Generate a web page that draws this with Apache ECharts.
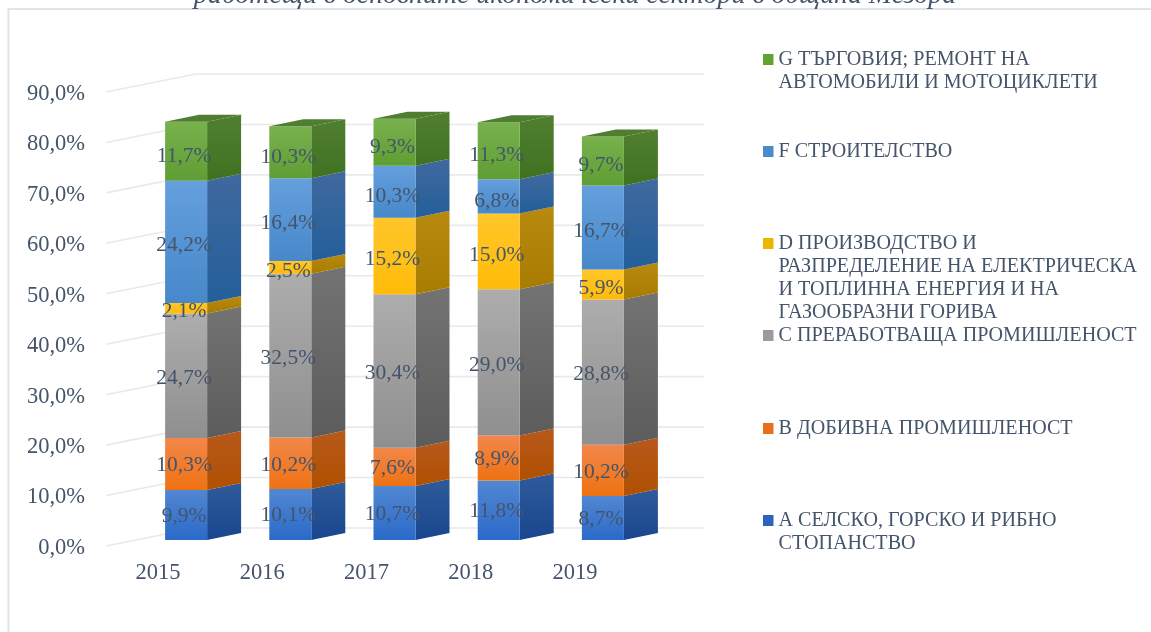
<!DOCTYPE html>
<html>
<head>
<meta charset="utf-8">
<style>
html,body{margin:0;padding:0;background:#fff;overflow:hidden}
#main{width:1151px;height:632px;filter:blur(0.5px)}
</style>
<script src="https://cdn.jsdelivr.net/npm/echarts@6/dist/echarts.min.js"></script>
</head>
<body>
<div id="main"></div>
<script>
const categories = ['2015', '2016', '2017', '2018', '2019'];
const ticks = [0, 10, 20, 30, 40, 50, 60, 70, 80, 90];

const sectorA = [9.9, 10.1, 10.7, 11.8, 8.7];
const sectorB = [10.3, 10.2, 7.6, 8.9, 10.2];
const sectorC = [24.7, 32.5, 30.4, 29.0, 28.8];
const sectorD = [2.1, 2.5, 15.2, 15.0, 5.9];
const sectorF = [24.2, 16.4, 10.3, 6.8, 16.7];
const sectorG = [11.7, 10.3, 9.3, 11.3, 9.7];

const nameA = 'А СЕЛСКО, ГОРСКО И РИБНО\nСТОПАНСТВО';
const nameB = 'В ДОБИВНА ПРОМИШЛЕНОСТ';
const nameC = 'С ПРЕРАБОТВАЩА ПРОМИШЛЕНОСТ';
const nameD = 'D ПРОИЗВОДСТВО И\nРАЗПРЕДЕЛЕНИЕ НА ЕЛЕКТРИЧЕСКА\nИ ТОПЛИННА ЕНЕРГИЯ И НА\nГАЗООБРАЗНИ ГОРИВА';
const nameF = 'F СТРОИТЕЛСТВО';
const nameG = 'G ТЪРГОВИЯ; РЕМОНТ НА\nАВТОМОБИЛИ И МОТОЦИКЛЕТИ';

const TEXT = '#44546a';
const SERIF = '"Liberation Serif","Times New Roman",serif';

const stackDefs = [
  {name: nameA, values: sectorA, legend: '#2f62bc', legendTop: 520.5,
   front: ['#5287d2', '#2a6ac9'], side: ['#2f5b9a', '#18468f']},
  {name: nameB, values: sectorB, legend: '#e96f1c', legendTop: 428.5,
   front: ['#f2874a', '#ef7212'], side: ['#b8591c', '#b05000']},
  {name: nameC, values: sectorC, legend: '#9b9b9b', legendTop: 335.5,
   front: ['#adadad', '#8f8f8f'], side: ['#737373', '#5c5c5c']},
  {name: nameD, values: sectorD, legend: '#eab700', legendTop: 243.5,
   front: ['#ffc62a', '#ffbb08'], side: ['#b88a10', '#a87c00']},
  {name: nameF, values: sectorF, legend: '#4a8bcb', legendTop: 151.5,
   front: ['#659fdd', '#4688ca'], side: ['#40699f', '#235f9a']},
  {name: nameG, values: sectorG, legend: '#62a233', legendTop: 59.5,
   front: ['#78b14d', '#5f9e34'], side: ['#507f30', '#3f7220'], top: '#4f7e30'}
];

// depth projection of the 3D look (pixel offsets from the axis scales)
const BASE_LIFT = 8, BAR_INSET = 7, BAR_W = 42, DEPTH_X = 34, DEPTH_Y = 7;
const WALL_LIFT = 2, WALL_DX = 90, WALL_DY = 18, WALL_W = 508;

function vGrad(c) {
  return {type: 'linear', x: 0, y: 0, x2: 0, y2: 1,
    colorStops: [{offset: 0, color: c[0]}, {offset: 1, color: c[1]}]};
}

function makeBarSeries(def, idx) {
  const data = categories.map((c, i) => {
    let start = 0;
    for (let k = 0; k < idx; k++) start += stackDefs[k].values[i];
    return [i, +start.toFixed(1), +(start + def.values[i]).toFixed(1), def.values[i]];
  });
  return {
    type: 'custom', name: def.name, data: data, clip: false,
    itemStyle: {color: def.legend},
    encode: {x: 0, y: [1, 2]},
    renderItem(params, api) {
      const lo = api.coord([api.value(0), api.value(1)]);
      const hi = api.coord([api.value(0), api.value(2)]);
      const x0 = lo[0] + BAR_INSET, x1 = x0 + BAR_W;
      const y0 = lo[1] - BASE_LIFT, y1 = hi[1] - BASE_LIFT;
      const mid = (api.value(1) + api.value(2)) / 2;
      const kids = [
        {type: 'polygon', shape: {points: [[x1, y1], [x1 + DEPTH_X, y1 - DEPTH_Y], [x1 + DEPTH_X, y0 - DEPTH_Y], [x1, y0]]},
         style: {fill: vGrad(def.side)}},
        {type: 'rect', shape: {x: x0, y: y1, width: BAR_W, height: y0 - y1},
         style: {fill: vGrad(def.front)}}
      ];
      if (def.top) {
        kids.push({type: 'polygon', shape: {points: [[x0, y1], [x0 + DEPTH_X, y1 - DEPTH_Y], [x1 + DEPTH_X, y1 - DEPTH_Y], [x1, y1]]},
          style: {fill: def.top}});
      }
      kids.push({type: 'text', z2: 100, style: {
        x: x0 + BAR_W / 2 - 2, y: (y0 + y1) / 2 + 1 + mid * 0.05,
        text: api.value(3).toFixed(1).replace('.', ',') + '%',
        fill: TEXT, font: '21.5px ' + SERIF, align: 'center', verticalAlign: 'middle'}});
      return {type: 'group', children: kids};
    }
  };
}

const wallSeries = {
  type: 'custom', name: 'wall', silent: true, clip: false, z: 1,
  data: ticks.map(t => [0, t]),
  encode: {x: 0, y: 1},
  renderItem(params, api) {
    const p = api.coord([0, api.value(1)]);
    const x = p[0] - api.size([1, 0])[0] / 2, y = p[1] - WALL_LIFT;
    return {type: 'polyline',
      shape: {points: [[x, y], [x + WALL_DX, y - WALL_DY], [x + WALL_DX + WALL_W, y - WALL_DY]]},
      style: {stroke: '#e9e9e9', lineWidth: 1.6, fill: null}};
  }
};

const legends = stackDefs.map(def => {
  const n = def.name.split('\n').length;
  return {
    data: [def.name], left: 763, top: def.legendTop - (2 * n - 1) * 11.5, padding: 0,
    icon: 'rect', itemWidth: 10.5, itemHeight: 11, selectedMode: false,
    formatter: name => '\n'.repeat(n - 1) + name,
    textStyle: {color: TEXT, fontFamily: SERIF, fontSize: 20.1, lineHeight: 23}
  };
});

const chart = echarts.init(document.getElementById('main'), null, {renderer: 'canvas'});
chart.setOption({
  animation: false,
  backgroundColor: '#ffffff',
  title: {
    text: 'работещи в основните икономически сектори в община Мездра',
    left: 575, top: -18, textAlign: 'center', padding: 0,
    textStyle: {color: TEXT, fontFamily: SERIF, fontSize: 27.9, fontStyle: 'italic', fontWeight: 'normal'}
  },
  legend: legends,
  grid: {left: 106, top: 94, width: 521, height: 454, containLabel: false},
  xAxis: {
    type: 'category', data: categories,
    axisLine: {show: false}, axisTick: {show: false},
    axisLabel: {color: TEXT, fontFamily: SERIF, fontSize: 22.5, margin: 14}
  },
  yAxis: {
    type: 'value', min: 0, max: 90, interval: 10,
    splitLine: {show: false}, axisLine: {show: false}, axisTick: {show: false},
    axisLabel: {color: TEXT, fontFamily: SERIF, fontSize: 22.5, margin: 21,
      formatter: v => v.toFixed(1).replace('.', ',') + '%'}
  },
  graphic: [{
    type: 'polyline', silent: true, z: -1,
    shape: {points: [[8.5, 632], [8.5, 9], [1151, 9]]},
    style: {stroke: '#dfe5ec', lineWidth: 2, fill: null}
  }],
  series: [wallSeries].concat(stackDefs.map(makeBarSeries))
});
</script>
</body>
</html>
